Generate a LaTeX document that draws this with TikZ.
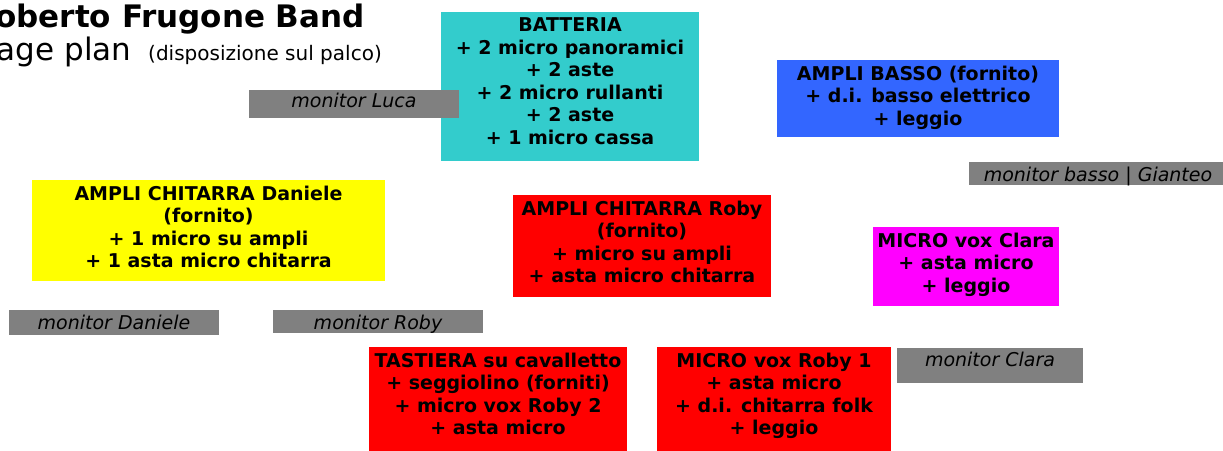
\documentclass[tikz,border=0pt]{standalone}
\usepackage{fontspec}
\setmainfont{DejaVu Sans}
\usetikzlibrary{positioning}
\definecolor{drumcyan}{HTML}{33CCCC}
\definecolor{bassblue}{HTML}{3366FF}
\definecolor{ampyellow}{HTML}{FFFF00}
\definecolor{stagered}{HTML}{FF0000}
\definecolor{voxmagenta}{HTML}{FF00FF}
\definecolor{mongray}{HTML}{808080}

\begin{document}
\begin{tikzpicture}
    [
    x=1pt, y=-1pt,
    zone/.style={anchor=north west, inner sep=0pt, outer sep=0pt},
    kit/.style={anchor=north, inner sep=0pt, align=center, font=\fontsize{19}{22.6}\selectfont\bfseries},
    mon/.style={zone, fill=mongray},
    montext/.style={anchor=base, inner sep=0pt, font=\fontsize{19}{22}\selectfont\itshape}
    ]
    \useasboundingbox (0,0) rectangle (1223,450);

    % Titolo
    \node [anchor=base east, inner sep=0pt, font=\fontsize{31}{36}\selectfont\bfseries] (title) at (365,27.3) {Roberto Frugone Band};
    \node [anchor=base east, inner sep=0pt, font=\fontsize{31}{36}\selectfont] (plan) at (131.7,60) {Stage plan};
    \node [anchor=base west, inner sep=0pt, font=\fontsize{20}{24}\selectfont] (palco) at (148,60) {(disposizione sul palco)};

    % Batteria e monitor Luca
    \node [zone, fill=drumcyan, minimum width=258, minimum height=149] (batteria) at (441,12) {};
    \node [kit, below=5.5pt of batteria.north] (batteria-t) {BATTERIA\\+ 2 micro panoramici\\+ 2 aste\\+ 2 micro rullanti\\+ 2 aste\\+ 1 micro cassa};
    \node [mon, minimum width=210, minimum height=28] (monluca) at (249,90) {};
    \node [montext] (monluca-t) at ([yshift=-17.3pt]monluca.north) {monitor Luca};

    % Basso
    \node [zone, fill=bassblue, minimum width=282, minimum height=77] (basso) at (777,60) {};
    \node [kit, below=5.5pt of basso.north] (basso-t) {AMPLI BASSO (fornito)\\+ d.i. basso elettrico\\+ leggio};
    \node [mon, minimum width=258, minimum height=23] (monbasso) at (969,162) {};
    \node [montext] (monbasso-t) at ([yshift=-19.7pt]monbasso.north) {monitor basso | Gianteo};

    % Chitarre
    \node [zone, fill=ampyellow, minimum width=353, minimum height=101] (daniele) at (32,180) {};
    \node [kit, below=5.5pt of daniele.north] (daniele-t) {AMPLI CHITARRA Daniele\\(fornito)\\+ 1 micro su ampli\\+ 1 asta micro chitarra};
    \node [zone, fill=stagered, minimum width=258, minimum height=102] (ampliroby) at (513,195) {};
    \node [kit, below=5.5pt of ampliroby.north] (ampliroby-t) {AMPLI CHITARRA Roby\\(fornito)\\+ micro su ampli\\+ asta micro chitarra};

    % Voce Clara
    \node [zone, fill=voxmagenta, minimum width=186, minimum height=79] (clara) at (873,227) {};
    \node [kit, below=5.5pt of clara.north] (clara-t) {MICRO vox Clara\\+ asta micro\\+ leggio};

    % Monitor in basso
    \node [mon, minimum width=210, minimum height=25] (mondaniele) at (9,310) {};
    \node [montext] (mondaniele-t) at ([yshift=-19.3pt]mondaniele.north) {monitor Daniele};
    \node [mon, minimum width=210, minimum height=23] (monroby) at (273,310) {};
    \node [montext] (monroby-t) at ([yshift=-19.3pt]monroby.north) {monitor Roby};

    % Tastiera e voce Roby
    \node [zone, fill=stagered, minimum width=258, minimum height=110] (tastiera) at (369,347) {};
    \node [kit, below=5.5pt of tastiera.north] (tastiera-t) {TASTIERA su cavalletto\\+ seggiolino (forniti)\\+ micro vox Roby 2\\+ asta micro};
    \node [zone, fill=stagered, minimum width=234, minimum height=110] (voxroby) at (657,347) {};
    \node [kit, below=5.5pt of voxroby.north] (voxroby-t) {MICRO vox Roby 1\\+ asta micro\\+ d.i. chitarra folk\\+ leggio};
    \node [mon, minimum width=186, minimum height=35] (monclara) at (897,348) {};
    \node [montext] (monclara-t) at ([yshift=-18.7pt]monclara.north) {monitor Clara};
\end{tikzpicture}
\end{document}
